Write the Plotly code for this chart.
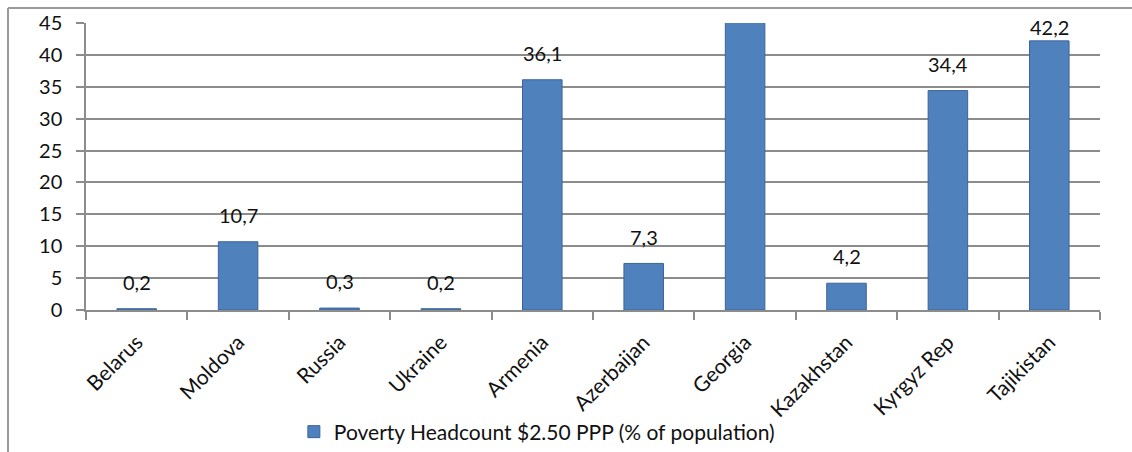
import plotly.graph_objects as go

countries = ["Belarus", "Moldova", "Russia", "Ukraine", "Armenia",
             "Azerbaijan", "Georgia", "Kazakhstan", "Kyrgyz Rep", "Tajikistan"]
headcount = [0.2, 10.7, 0.3, 0.2, 36.1, 7.3, 46.7, 4.2, 34.4, 42.2]
show_label = [True, True, True, True, True, True, False, True, True, True]
series_name = "Poverty Headcount $2.50 PPP (% of population)"
y_ticks = list(range(0, 50, 5))

FONT = "Lato, 'Open Sans', sans-serif"
GRID = "#8c8c8c"
TXT = "#111111"

fig = go.Figure()
fig.add_trace(go.Bar(
    x=countries, y=headcount, name=series_name,
    marker=dict(color="#4f81bd", line=dict(color="#3b649a", width=1)),
    width=0.39,
))

# value labels sit above each bar, kept inside the top of the plot
Y_MAX = 45
for c, v, s in zip(countries, headcount, show_label):
    if not s:
        continue
    fig.add_annotation(
        x=c, y=min(v + 4.2, 44.4), text=f"{v:.1f}".replace(".", ","),
        showarrow=False, yanchor="middle",
        font=dict(family=FONT, size=20, color=TXT),
    )

fig.update_layout(
    width=1132, height=452,
    margin=dict(l=86, r=32, t=23, b=142, autoexpand=False),
    paper_bgcolor="white", plot_bgcolor="white",
    showlegend=True,
    legend=dict(orientation="h", x=0.205, xanchor="left", y=-0.425, yanchor="middle",
                font=dict(family=FONT, size=21, color=TXT),
                bgcolor="rgba(0,0,0,0)", itemwidth=30),
    font=dict(family=FONT, size=20, color=TXT),
)
fig.update_yaxes(
    range=[0, Y_MAX], tickvals=y_ticks, showgrid=True, gridcolor=GRID, gridwidth=1.5,
    showline=True, linecolor=GRID, linewidth=1.5,
    ticks="outside", ticklen=8, tickcolor=GRID, tickwidth=1.5,
    ticklabelstandoff=10, zeroline=False, automargin=False,
    tickfont=dict(family=FONT, size=20, color=TXT),
)
fig.update_xaxes(
    showgrid=False, showline=True, linecolor=GRID, linewidth=1.5,
    ticks="outside", ticklen=8, tickcolor=GRID, tickwidth=1.5,
    tickson="boundaries", tickangle=-45, automargin=False,
    ticklabelstandoff=10,
    tickfont=dict(family=FONT, size=21, color=TXT),
)

# chart frame (top and left edges visible)
fig.add_shape(type="line", xref="paper", yref="paper",
              x0=(8 - 86) / 1014, x1=(1132 - 86) / 1014,
              y0=(310 - 8) / 287, y1=(310 - 8) / 287,
              line=dict(color="#9a9a9a", width=2))
fig.add_shape(type="line", xref="paper", yref="paper",
              x0=(8 - 86) / 1014, x1=(8 - 86) / 1014,
              y0=(310 - 8) / 287, y1=(310 - 460) / 287,
              line=dict(color="#9a9a9a", width=2))

fig.write_html("out.html")
